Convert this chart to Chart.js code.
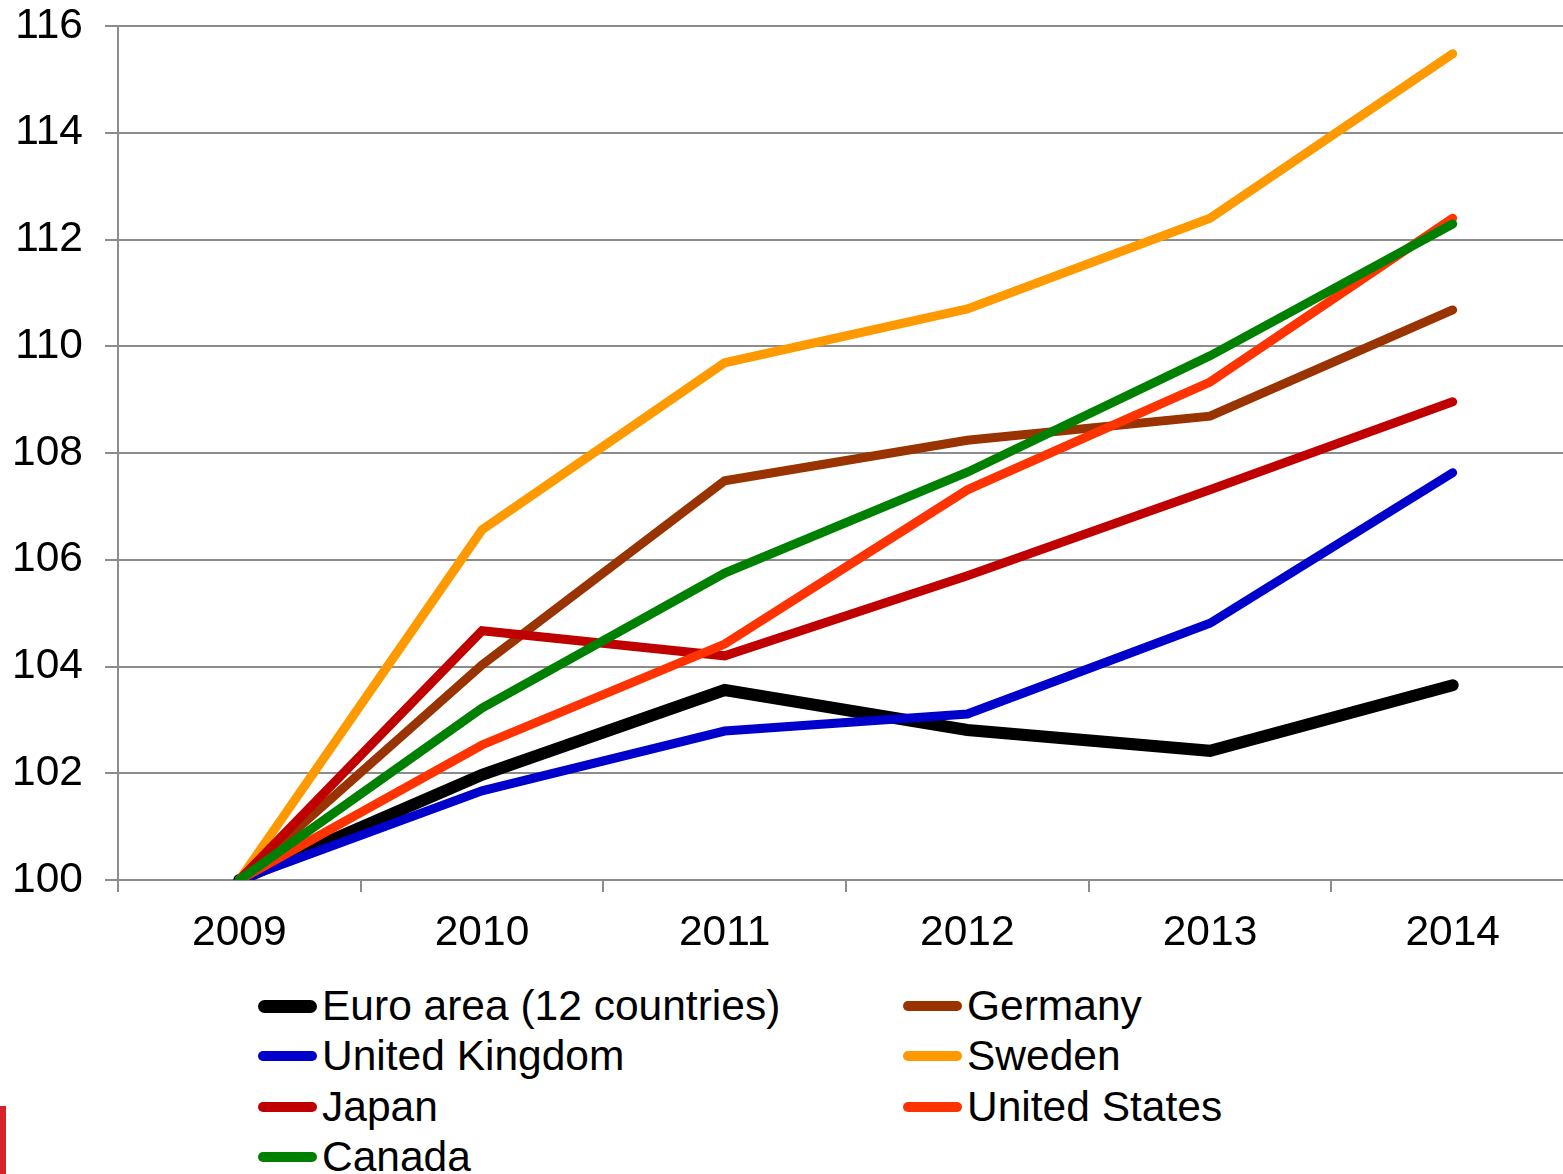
<!DOCTYPE html>
<html>
<head>
<meta charset="utf-8">
<script src="https://cdn.jsdelivr.net/npm/chart.js@4.4.1/dist/chart.umd.min.js"></script>
<style>
    body { margin: 0; background: #fff; overflow: hidden; width: 1563px; height: 1174px; position: relative; font-family: 'Liberation Sans', Arial, sans-serif; }
    #wrap { position: absolute; left: 0; top: 0; width: 1574px; height: 975px; }
    #legend { position: absolute; left: 0; top: 981px; width: 1563px; }
    .item { position: absolute; height: 50px; display: flex; align-items: center; font-size: 42.5px; color: #000; white-space: nowrap; }
    .swatch { width: 59px; border-radius: 7px; margin-right: 5px; }
    #logo { position: absolute; left: 0; top: 1106px; width: 6px; height: 68px; background: #d92128; }
</style>
</head>
<body>
<div id="wrap"><canvas id="chart"></canvas></div>
<div id="legend"></div>
<div id="logo"></div>
<script>
const years = ['2009', '2010', '2011', '2012', '2013', '2014'];
const yTicks = [100, 102, 104, 106, 108, 110, 112, 114, 116];

const names = ['Euro area (12 countries)', 'Germany', 'United Kingdom', 'Sweden', 'Japan', 'United States', 'Canada'];
const colors = ['#000000', '#993300', '#0000cc', '#ff9900', '#c00000', '#ff3300', '#008000'];

const euroArea = [100, 101.97, 103.56, 102.81, 102.42, 103.65];
const germany = [100, 104.03, 107.48, 108.24, 108.69, 110.68];
const unitedKingdom = [100, 101.67, 102.79, 103.11, 104.81, 107.63];
const sweden = [100, 106.56, 109.69, 110.70, 112.40, 115.48];
const japan = [100, 104.67, 104.20, 105.70, 107.31, 108.96];
const unitedStates = [100, 102.53, 104.42, 107.31, 109.33, 112.40];
const canada = [100, 103.22, 105.75, 107.64, 109.82, 112.29];

const series = [euroArea, germany, unitedKingdom, sweden, japan, unitedStates, canada];

// later series sit on top, like the original
const datasets = series.map((vals, i) => ({
    label: names[i],
    data: vals,
    borderColor: colors[i],
    backgroundColor: colors[i],
    borderWidth: i === 0 ? 12 : 9,
    borderCapStyle: 'round',
    pointRadius: 0,
    tension: 0,
    order: series.length - i,
}));

const grey = '#8c8c8c';
const tickFont = { family: 'Liberation Sans', size: 42.5 };

new Chart(document.getElementById('chart').getContext('2d'), {
    type: 'line',
    data: { labels: years, datasets: datasets },
    options: {
        responsive: true,
        maintainAspectRatio: false,
        animation: false,
        layout: { padding: 0 },
        plugins: { legend: { display: false }, tooltip: { enabled: false } },
        scales: {
            x: {
                offset: true,
                grid: { offset: true, drawOnChartArea: false, drawTicks: true, tickLength: 12, color: grey, lineWidth: 2 },
                border: { display: true, color: grey, width: 2 },
                ticks: { color: '#000', padding: 16, font: tickFont, maxRotation: 0 },
            },
            y: {
                min: yTicks[0],
                max: yTicks[yTicks.length - 1],
                afterBuildTicks: scale => { scale.ticks = yTicks.map(v => ({ value: v })); },
                afterFit: scale => {
                    scale.width = 118;
                    scale.paddingTop = 26;
                    scale.paddingBottom = 0;
                },
                grid: { color: grey, lineWidth: 2, tickLength: 13 },
                border: { display: true, color: grey, width: 2 },
                ticks: { color: '#000', padding: 22, font: tickFont },
            },
        },
    },
});

// legend, two columns, row by row
const legend = document.getElementById('legend');
names.forEach((name, i) => {
    const div = document.createElement('div');
    div.className = 'item';
    div.style.left = (i % 2 === 0 ? 258 : 903) + 'px';
    div.style.top = (Math.floor(i / 2) * 50.3) + 'px';
    div.innerHTML = `<span class="swatch" style="background:${colors[i]};height:${i === 0 ? 13 : 10}px"></span><span>${name}</span>`;
    legend.appendChild(div);
});
</script>
</body>
</html>
